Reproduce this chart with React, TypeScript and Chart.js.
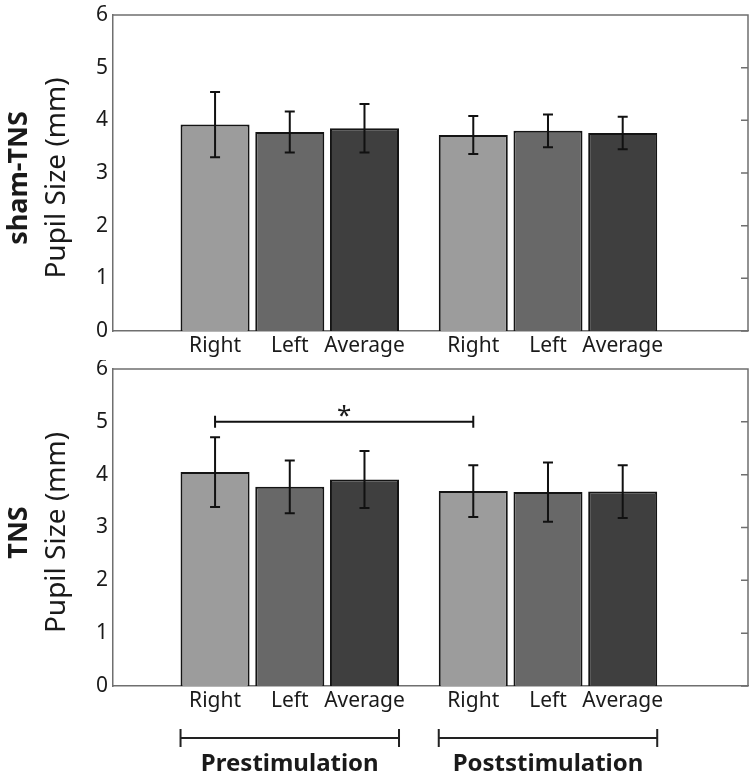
import React, { useEffect, useRef } from "react";
import { Chart, registerables } from "chart.js";
Chart.register(...registerables);

// ---------- data ----------
const conditionLabels = ["Right", "Left", "Average"];
const phaseLabels = ["Prestimulation", "Poststimulation"];
const panelNames = ["sham-TNS", "TNS"];
const yAxisTitle = "Pupil Size (mm)";
const yTickValues = [0, 1, 2, 3, 4, 5, 6];

// order: Pre Right, Pre Left, Pre Average, Post Right, Post Left, Post Average
const shamMeans = [3.92, 3.78, 3.85, 3.72, 3.8, 3.76];
const shamErrors = [0.62, 0.39, 0.46, 0.36, 0.31, 0.31];
const tnsMeans = [4.05, 3.77, 3.91, 3.69, 3.67, 3.68];
const tnsErrors = [0.66, 0.5, 0.54, 0.49, 0.56, 0.5];

const sigPair = [0, 3];
const sigLevel = 5.0;
const sigLabel = "*";

// ---------- style / layout ----------
const barColors = ["#9c9c9c", "#686868", "#3f3f3f"];
const FONT = "'Noto Sans', 'DejaVu Sans', sans-serif";
const AXIS_COLOR = "#6f6f6f";
const TEXT_COLOR = "#1a1a1a";
const GROUP_GAP = 1.456;
const X_MIN = -0.366;
const X_MAX = 8.133;
const AXIS_LEFT = 113;

const positions: number[] = [];
phaseLabels.forEach((_, g) => {
  conditionLabels.forEach((_, c) => {
    positions.push(1 + g * (conditionLabels.length - 1 + GROUP_GAP) + c);
  });
});

function centeredText(ctx: CanvasRenderingContext2D, text: string, x: number, y: number) {
  const m = ctx.measureText(text);
  ctx.textAlign = "center";
  ctx.textBaseline = "alphabetic";
  ctx.fillText(text, x, y + (m.actualBoundingBoxAscent - m.actualBoundingBoxDescent) / 2);
}

function buildConfig(
  panelIndex: number,
  means: number[],
  errors: number[],
  padTop: number,
  xHeight: number,
  withSig: boolean,
  withPhases: boolean
): any {
  const errorBars = {
    id: "errorBars" + panelIndex,
    afterDatasetsDraw(chart: any) {
      const ctx = chart.ctx;
      const ys = chart.scales.y;
      const meta = chart.getDatasetMeta(0);
      ctx.save();
      ctx.strokeStyle = "#111";
      ctx.lineWidth = 2;
      meta.data.forEach((el: any, i: number) => {
        const x = el.x;
        const yt = ys.getPixelForValue(means[i] + errors[i]);
        const yb = ys.getPixelForValue(means[i] - errors[i]);
        ctx.beginPath();
        ctx.moveTo(x, yt);
        ctx.lineTo(x, yb);
        ctx.moveTo(x - 5, yt);
        ctx.lineTo(x + 5, yt);
        ctx.moveTo(x - 5, yb);
        ctx.lineTo(x + 5, yb);
        ctx.stroke();
      });
      ctx.restore();
    },
  };

  const frame = {
    id: "frame" + panelIndex,
    afterDraw(chart: any) {
      const ctx = chart.ctx;
      const a = chart.chartArea;
      const ys = chart.scales.y;
      ctx.save();
      ctx.strokeStyle = AXIS_COLOR;
      ctx.lineWidth = 1.5;
      ctx.beginPath();
      ctx.moveTo(a.left, a.top);
      ctx.lineTo(a.right, a.top);
      ctx.lineTo(a.right, a.bottom);
      yTickValues.forEach((v) => {
        const y = ys.getPixelForValue(v);
        ctx.moveTo(a.right, y);
        ctx.lineTo(a.right - 7, y);
      });
      ctx.stroke();

      // y titles
      const cy = (a.top + a.bottom) / 2 + 5;
      ctx.fillStyle = TEXT_COLOR;
      ctx.translate(0, cy);
      ctx.rotate(-Math.PI / 2);
      ctx.textAlign = "center";
      ctx.textBaseline = "alphabetic";
      ctx.font = `bold 27px ${FONT}`;
      ctx.fillText(panelNames[panelIndex], 0, 27);
      ctx.font = `28px ${FONT}`;
      ctx.fillText(yAxisTitle, 0, 65);
      ctx.restore();
    },
  };

  const sig = {
    id: "sig" + panelIndex,
    afterDraw(chart: any) {
      if (!withSig) return;
      const ctx = chart.ctx;
      const meta = chart.getDatasetMeta(0);
      const ys = chart.scales.y;
      const x1 = meta.data[sigPair[0]].x;
      const x2 = meta.data[sigPair[1]].x;
      const y = ys.getPixelForValue(sigLevel);
      ctx.save();
      ctx.strokeStyle = "#111";
      ctx.lineWidth = 2;
      ctx.beginPath();
      ctx.moveTo(x1, y);
      ctx.lineTo(x2, y);
      ctx.moveTo(x1, y - 6);
      ctx.lineTo(x1, y + 6);
      ctx.moveTo(x2, y - 6);
      ctx.lineTo(x2, y + 6);
      ctx.stroke();
      ctx.fillStyle = TEXT_COLOR;
      ctx.font = `26px ${FONT}`;
      centeredText(ctx, sigLabel, (x1 + x2) / 2, y - 11);
      ctx.restore();
    },
  };

  const phases = {
    id: "phases" + panelIndex,
    afterDraw(chart: any) {
      if (!withPhases) return;
      const ctx = chart.ctx;
      const meta = chart.getDatasetMeta(0);
      const a = chart.chartArea;
      const n = conditionLabels.length;
      ctx.save();
      phaseLabels.forEach((label, g) => {
        const first = meta.data[g * n];
        const last = meta.data[g * n + n - 1];
        const xl = first.x - first.width / 2;
        const xr = last.x + last.width / 2;
        const y = a.bottom + 52;
        ctx.strokeStyle = "#222";
        ctx.lineWidth = 2;
        ctx.beginPath();
        ctx.moveTo(xl, y);
        ctx.lineTo(xr, y);
        ctx.moveTo(xl, y - 9);
        ctx.lineTo(xl, y + 9);
        ctx.moveTo(xr, y - 9);
        ctx.lineTo(xr, y + 9);
        ctx.stroke();
        ctx.fillStyle = TEXT_COLOR;
        ctx.font = `bold 24px ${FONT}`;
        centeredText(ctx, label, (xl + xr) / 2, a.bottom + 76);
      });
      ctx.restore();
    },
  };

  return {
    type: "bar",
    data: {
      datasets: [
        {
          data: positions.map((x, i) => ({ x, y: means[i] })),
          backgroundColor: positions.map((_, i) => barColors[i % conditionLabels.length]),
          borderColor: "#141414",
          borderWidth: 2,
          barPercentage: 0.924,
          categoryPercentage: 1,
        },
      ],
    },
    options: {
      animation: false,
      responsive: false,
      maintainAspectRatio: false,
      layout: { padding: { top: padTop, right: 2, left: 0, bottom: 0 } },
      plugins: {
        legend: { display: false },
        tooltip: { enabled: false },
        title: { display: false },
      },
      scales: {
        x: {
          type: "linear",
          offset: false,
          min: X_MIN,
          max: X_MAX,
          grid: { display: false, drawTicks: false, offset: false },
          border: { display: true, color: AXIS_COLOR, width: 1.5 },
          ticks: {
            autoSkip: false,
            maxRotation: 0,
            minRotation: 0,
            padding: 2,
            color: TEXT_COLOR,
            font: { family: FONT, size: 21 },
            callback: (value: number) => {
              const i = positions.findIndex((p) => Math.abs(p - value) < 1e-6);
              return i >= 0 ? conditionLabels[i % conditionLabels.length] : "";
            },
          },
          afterBuildTicks: (s: any) => {
            s.ticks = positions.map((v) => ({ value: v }));
          },
          afterFit: (s: any) => {
            s.height = xHeight;
            s.paddingLeft = 0;
            s.paddingRight = 0;
          },
        },
        y: {
          min: 0,
          max: 6,
          grid: { display: false, drawTicks: false },
          border: { display: true, color: AXIS_COLOR, width: 1.5 },
          ticks: {
            padding: 5,
            color: TEXT_COLOR,
            font: { family: FONT, size: 21 },
          },
          afterBuildTicks: (s: any) => {
            s.ticks = yTickValues.map((v) => ({ value: v }));
          },
          afterFit: (s: any) => {
            s.width = AXIS_LEFT;
            s.paddingTop = 0;
            s.paddingBottom = 0;
          },
        },
      },
    },
    plugins: [errorBars, frame, sig, phases],
  };
}

export default function App() {
  const topRef = useRef<HTMLCanvasElement>(null);
  const botRef = useRef<HTMLCanvasElement>(null);

  useEffect(() => {
    const c1 = new Chart(topRef.current as HTMLCanvasElement, buildConfig(0, shamMeans, shamErrors, 15, 29, false, false));
    const c2 = new Chart(botRef.current as HTMLCanvasElement, buildConfig(1, tnsMeans, tnsErrors, 9, 97, true, true));
    return () => {
      c1.destroy();
      c2.destroy();
    };
  }, []);

  return (
    <div style={{ position: "fixed", left: 0, top: 0, width: 750, height: 783, background: "#fff" }}>
      <canvas ref={topRef} width={750} height={360} style={{ position: "absolute", left: 0, top: 0, width: 750, height: 360 }} />
      <canvas ref={botRef} width={750} height={423} style={{ position: "absolute", left: 0, top: 360, width: 750, height: 423 }} />
    </div>
  );
}
